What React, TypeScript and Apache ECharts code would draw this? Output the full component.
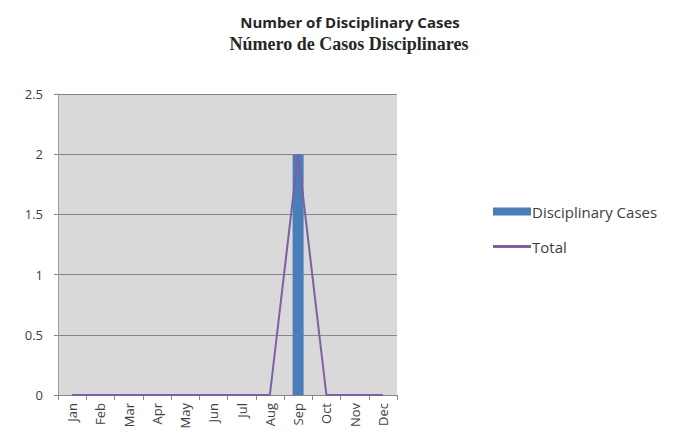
import React, { useEffect, useRef } from "react";
import * as echarts from "echarts";

const months = ["Jan", "Feb", "Mar", "Apr", "May", "Jun", "Jul", "Aug", "Sep", "Oct", "Nov", "Dec"];
const disciplinaryCases = [0, 0, 0, 0, 0, 0, 0, 0, 2, 0, 0, 0];
const totalCases = [0, 0, 0, 0, 0, 0, 0, 0, 2, 0, 0, 0];
const titleLines = ["Number of Disciplinary Cases", "Número de Casos Disciplinares"];
const seriesNames = ["Disciplinary Cases", "Total"];

export default function App() {
  const ref = useRef<HTMLDivElement>(null);
  useEffect(() => {
    document.body.style.margin = "0";
    if (!ref.current) return;
    const chart = echarts.init(ref.current, undefined, { renderer: "svg" });
    chart.setOption({
      animation: false,
      backgroundColor: "#ffffff",
      title: [
        {
          text: titleLines[0],
          left: 345,
          textAlign: "center",
          top: 9,
          textStyle: { fontFamily: "Open Sans", fontWeight: "bold", fontSize: 15, color: "#262626" },
        },
        {
          text: titleLines[1],
          left: 344,
          textAlign: "center",
          top: 30,
          textStyle: { fontFamily: "Liberation Serif", fontWeight: "bold", fontSize: 18, color: "#262626" },
        },
      ],
      legend: {
        orient: "vertical",
        left: 488,
        top: 199,
        itemWidth: 38,
        itemHeight: 8,
        itemGap: 20,
        textStyle: { fontFamily: "Open Sans", fontSize: 15, color: "#404040", padding: [0, 0, 0, -4] },
        data: [
          { name: seriesNames[0], icon: "rect" },
          { name: seriesNames[1], icon: "path://M0,0 H38 V3 H0 Z", itemStyle: { color: "#7e5fa3" } },
        ],
      },
      grid: { left: 58, top: 94, width: 339, height: 301, backgroundColor: "#d9d9d9", show: true, borderWidth: 0 },
      xAxis: {
        type: "category",
        data: months,
        boundaryGap: true,
        axisLine: { show: true, lineStyle: { color: "#868686", width: 1 } },
        axisTick: { show: true, length: 5, lineStyle: { color: "#868686" } },
        axisLabel: { rotate: 90, margin: 8, interval: 0, color: "#404040", fontFamily: "Open Sans", fontSize: 13 },
        splitLine: { show: false },
      },
      yAxis: {
        type: "value",
        min: 0,
        max: 2.5,
        interval: 0.5,
        axisLine: { show: true, lineStyle: { color: "#9a9a9a", width: 1 } },
        axisTick: { show: true, length: 4, lineStyle: { color: "#868686" } },
        axisLabel: { margin: 15, color: "#404040", fontFamily: "Open Sans", fontSize: 13 },
        splitLine: { show: true, lineStyle: { color: "#868686", width: 1 } },
      },
      series: [
        {
          name: seriesNames[0],
          type: "bar",
          data: disciplinaryCases,
          barWidth: 11,
          itemStyle: { color: "#4a7ebb" },
        },
        {
          name: seriesNames[1],
          type: "line",
          data: totalCases,
          symbol: "none",
          lineStyle: { color: "#7e5fa3", width: 2 },
          itemStyle: { color: "#7e5fa3" },
        },
      ],
    });
    return () => chart.dispose();
  }, []);
  return <div ref={ref} style={{ width: 678, height: 441 }} />;
}
